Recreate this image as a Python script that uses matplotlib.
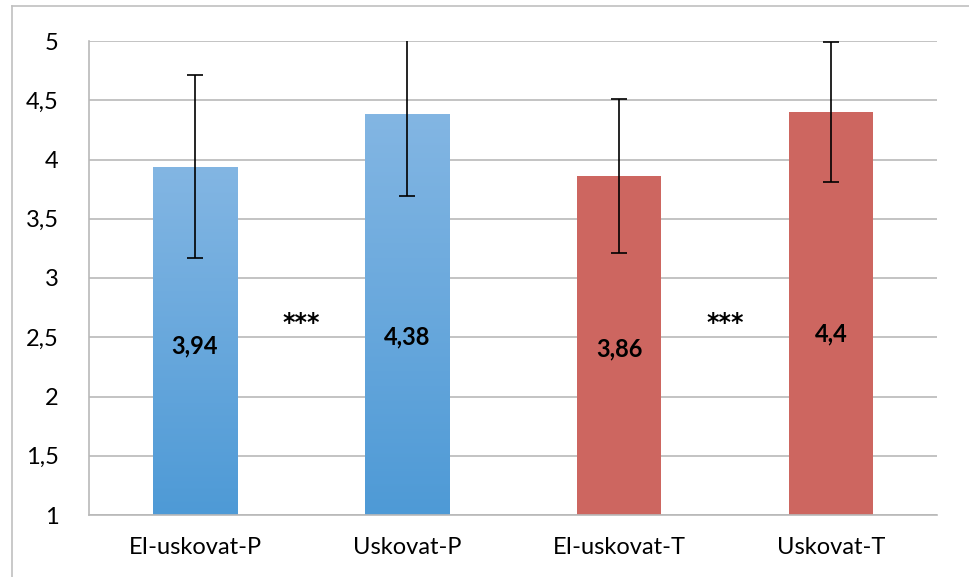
import matplotlib
matplotlib.use("Agg")
import matplotlib.pyplot as plt
import numpy as np
from matplotlib.colors import LinearSegmentedColormap
from matplotlib.lines import Line2D

categories = ["EI-uskovat-P", "Uskovat-P", "EI-uskovat-T", "Uskovat-T"]
values = [3.94, 4.38, 3.86, 4.40]
errors = [0.77, 0.69, 0.65, 0.59]
value_labels = ["3,94", "4,38", "3,86", "4,4"]
value_label_y = [2.43, 2.50, 2.40, 2.53]
y_ticks = [1, 1.5, 2, 2.5, 3, 3.5, 4, 4.5, 5]
y_tick_labels = ["1", "1,5", "2", "2,5", "3", "3,5", "4", "4,5", "5"]
sig_positions = [0.5, 2.5]
sig_labels = ["***", "***"]
sig_y = [2.62, 2.62]

plt.rcParams['font.family'] = ['Lato', 'DejaVu Sans']

fig = plt.figure(figsize=(9.69, 5.77), dpi=100)
ax = fig.add_axes([89/969, 1 - 515/577, (937-89)/969, (515-41)/577])

x = np.arange(len(categories))
base_colors = ["#6AA8DE", "#6AA8DE", "#CD6660", "#CD6660"]
bars = ax.bar(x, [v - 1 for v in values], bottom=1, width=0.4, color=base_colors, zorder=2)

blue_cmap = LinearSegmentedColormap.from_list("bl", ["#4E9AD6", "#83B6E3"])
grad = np.linspace(0, 1, 256).reshape(-1, 1)
for i, b in enumerate(bars):
    if i < 2:
        x0, y0 = b.get_x(), b.get_y()
        w, h = b.get_width(), b.get_height()
        im = ax.imshow(grad, extent=[x0, x0 + w, y0, y0 + h], origin="lower",
                       cmap=blue_cmap, aspect="auto", zorder=2.5)
        im.set_clip_path(b)

ax.errorbar(x, values, yerr=errors, fmt="none", ecolor="black", elinewidth=1.2,
            capsize=6, capthick=1.2, zorder=3, clip_on=True)

for i, lab in enumerate(value_labels):
    ax.text(x[i], value_label_y[i], lab, ha="center", va="center",
            fontsize=17, fontweight="bold", zorder=4)

for p, lab, yy in zip(sig_positions, sig_labels, sig_y):
    ax.text(p, yy, lab, ha="center", va="center", fontsize=17, fontweight="bold",
            family="DejaVu Sans", zorder=4)

ax.set_xlim(-0.5, 3.5)
ax.set_ylim(1, 5)
ax.set_yticks(y_ticks)
ax.set_yticklabels(y_tick_labels, fontsize=17)
ax.set_xticks(x)
ax.set_xticklabels(categories, fontsize=17)
ax.tick_params(axis="y", length=0, pad=22)
ax.tick_params(axis="x", length=0, pad=16)
ax.grid(axis="y", color="#B9B9B9", linewidth=1.2, zorder=0)
ax.set_axisbelow(True)
for s in ["top", "right"]:
    ax.spines[s].set_visible(False)
ax.spines["left"].set_color("#B9B9B9")
ax.spines["bottom"].set_color("#B9B9B9")
ax.spines["left"].set_linewidth(1.2)
ax.spines["bottom"].set_linewidth(1.2)

# outer chart border
fig.add_artist(Line2D([12/969, 1], [1 - 6/577, 1 - 6/577], color="#C0C0C0", lw=1.2,
                      transform=fig.transFigure))
fig.add_artist(Line2D([12/969, 12/969], [0, 1 - 6/577], color="#C0C0C0", lw=1.2,
                      transform=fig.transFigure))

fig.savefig("out.png", dpi=100)
